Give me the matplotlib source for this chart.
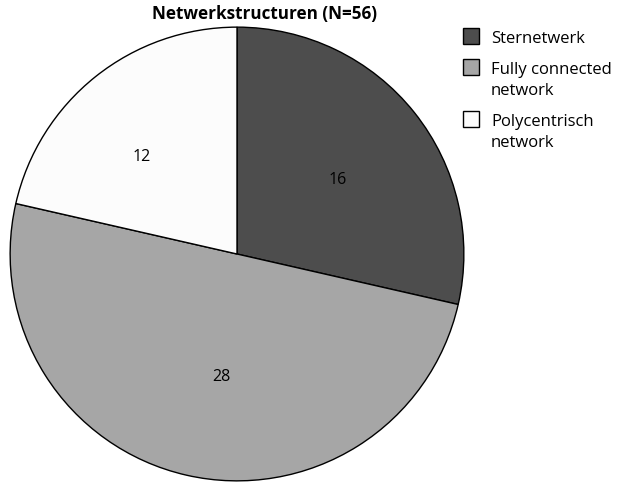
import matplotlib.pyplot as plt
from matplotlib.patches import Rectangle

# Data
labels = ['Sternetwerk', 'Fully connected\nnetwork', 'Polycentrisch\nnetwork']
values = [16, 28, 12]
colors = ['#4d4d4d', '#a6a6a6', '#fcfcfc']

plt.rcParams['font.family'] = ['Open Sans', 'DejaVu Sans']

W, H = 620, 485
fig = plt.figure(figsize=(W / 100, H / 100), dpi=100)
ax = fig.add_axes([9 / W, 2 / H, 456 / W, 456 / H])

wedges, texts = ax.pie(values, labels=[str(v) for v in values], colors=colors,
                       startangle=90, counterclock=False, labeldistance=0.55,
                       wedgeprops=dict(edgecolor='black', linewidth=1.0),
                       textprops=dict(fontsize=11.5))
for t in texts:
    t.set_ha('center')
# nudge labels a bit like in the original
texts[0].set_position((0.445, 0.33))
texts[1].set_x(-0.07)
texts[2].set_x(-0.42)
ax.set_xlim(-1.005, 1.005)
ax.set_ylim(-1.005, 1.005)
ax.set_aspect('equal')

fig.text(264 / W, 1 - 14 / H, 'Netwerkstructuren (N=56)', ha='center', va='center',
         fontsize=12.3, fontweight='bold')

# legend, handles aligned with the first text line
y = 37
for lab, c in zip(labels, colors):
    fig.add_artist(Rectangle((463 / W, 1 - (y + 8) / H), 16 / W, 16 / H,
                             transform=fig.transFigure, facecolor=c,
                             edgecolor='black', linewidth=1.0))
    fig.text(491 / W, 1 - (y - 6) / H, lab, ha='left', va='top', fontsize=12,
             linespacing=1.4)
    y += 21 * lab.count('\n') + 31

fig.savefig('out.png', dpi=100)
